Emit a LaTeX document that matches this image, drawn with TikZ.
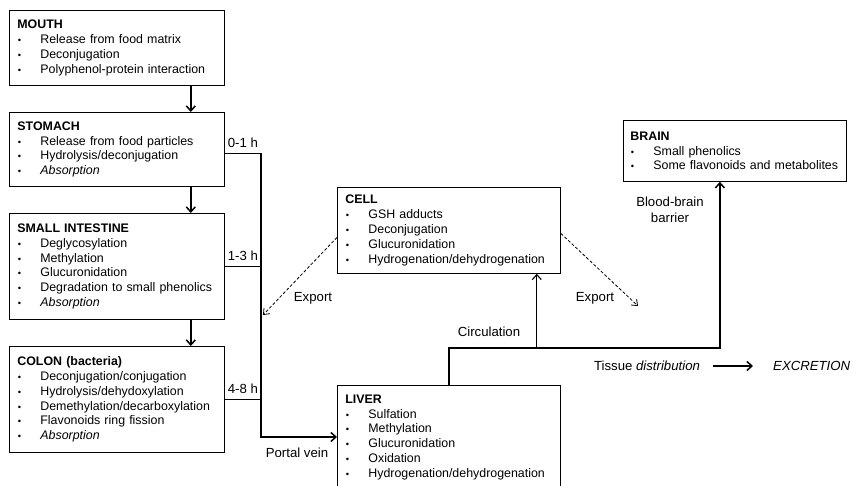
\documentclass[tikz,border=0pt]{standalone}
\usepackage{fontspec}
\setmainfont{Liberation Sans}
\usetikzlibrary{arrows.meta}

\newcommand{\itm}{\makebox[23pt][l]{\hspace{0.5pt}\scalebox{0.75}{\textbullet}}}
\newcommand{\figfont}{\fontsize{12.4}{14.8}\selectfont}
\newcommand{\lblfont}{\fontsize{13.2}{16}\selectfont}

\begin{document}
\begin{tikzpicture}[x=1pt, y=-1pt, font=\figfont,
  organ/.style={draw, line width=0.8pt, anchor=north west, align=left,
    inner xsep=8pt, inner ysep=0pt, text width=199pt},
  wide/.style={organ, text width=207pt},
  flow/.style={line width=1.5pt, -{Straight Barb[length=5pt,width=9pt]}},
  link/.style={line width=1.5pt},
  export/.style={line width=0.8pt, dash pattern=on 3pt off 2pt, -{Straight Barb[length=5pt,width=8pt]}},
  lbl/.style={inner sep=0pt, font=\lblfont}
]
  \useasboundingbox (0,0) rectangle (852,486);

  % Organs of the gut
  \node[organ, minimum height=75pt] (mouth) at (9,10) {\textbf{MOUTH}\\
    \itm Release from food matrix\\ \itm Deconjugation\\ \itm Polyphenol-protein interaction};
  \node[organ, minimum height=74pt] (stomach) at (9,112) {\textbf{STOMACH}\\
    \itm Release from food particles\\ \itm Hydrolysis/deconjugation\\ \itm \textit{Absorption}};
  \node[organ, minimum height=106pt] (si) at (9,213) {\textbf{SMALL INTESTINE}\\
    \itm Deglycosylation\\ \itm Methylation\\ \itm Glucuronidation\\
    \itm Degradation to small phenolics\\ \itm \textit{Absorption}};
  \node[organ, minimum height=106pt] (colon) at (9,346) {\textbf{COLON (bacteria)}\\
    \itm Deconjugation/conjugation\\ \itm Hydrolysis/dehydoxylation\\
    \itm Demethylation/decarboxylation\\ \itm Flavonoids ring fission\\ \itm \textit{Absorption}};

  % Cell, liver and brain
  \node[wide, minimum height=86pt] (cell) at (337,187) {\textbf{CELL}\\
    \itm GSH adducts\\ \itm Deconjugation\\ \itm Glucuronidation\\ \itm Hydrogenation/dehydrogenation};
  \node[wide, minimum height=104pt] (liver) at (337,385) {\textbf{LIVER}\\
    \itm Sulfation\\ \itm Methylation\\ \itm Glucuronidation\\ \itm Oxidation\\
    \itm Hydrogenation/dehydrogenation};
  \node[wide, minimum height=61pt, inner xsep=7pt, text width=209pt] (brain) at (623,120) {\textbf{BRAIN}\\
    \itm Small phenolics\\ \itm Some flavonoids and metabolites};

  % Down the gut
  \foreach \a/\b in {mouth/stomach, stomach/si, si/colon}
    \draw[flow] ([xshift=-34pt]\a.south east) -- ([xshift=-34pt]\b.north east);

  % Absorption times and portal vein
  \coordinate (spine) at (261,0);
  \coordinate (s0) at ([yshift=-4pt]stomach.east);
  \coordinate (pv) at ([yshift=-52pt]liver.north west);
  \draw[flow] (s0) -- node[above=5pt, lbl] {0-1 h} (s0 -| spine) |- (pv);
  \draw[link] (si.east) -- node[above=5pt, lbl] {1-3 h} (si.east -| spine);
  \draw[link] (colon.east) -- node[above=5pt, lbl] {4-8 h} (colon.east -| spine);
  \node[lbl] (portal) at (297,453) {Portal vein};

  % Export from the cell
  \coordinate (expL) at (263,315);
  \coordinate (expR) at (638,306);
  \draw[export] ([yshift=-7pt]cell.west) -- (expL);
  \draw[export] ([yshift=-3pt]cell.east) -- (expR);
  \node[lbl] at (313,298) {Export};
  \node[lbl] at (595,298) {Export};

  % Circulation
  \coordinate (circ) at ([yshift=37pt]liver.north);
  \coordinate (cellin) at ([xshift=-24pt]cell.south east);
  \draw[flow] (liver.north) -- (circ) -| ([xshift=-15pt]brain.south);
  \draw[flow, line width=1.1pt] (cellin |- circ) -- (cellin);
  \node[lbl] at (489,332) {Circulation};
  \node[lbl, align=center] at (670,210) {Blood-brain\\barrier};

  % Excretion
  \node[lbl] (tissue) at (647,366) {Tissue \textit{distribution}};
  \node[lbl, anchor=west] (excr) at (773,366) {\textit{EXCRETION}};
  \draw[flow, shorten <=13pt, shorten >=20pt] (tissue.east) -- (excr.west);
\end{tikzpicture}
\end{document}
